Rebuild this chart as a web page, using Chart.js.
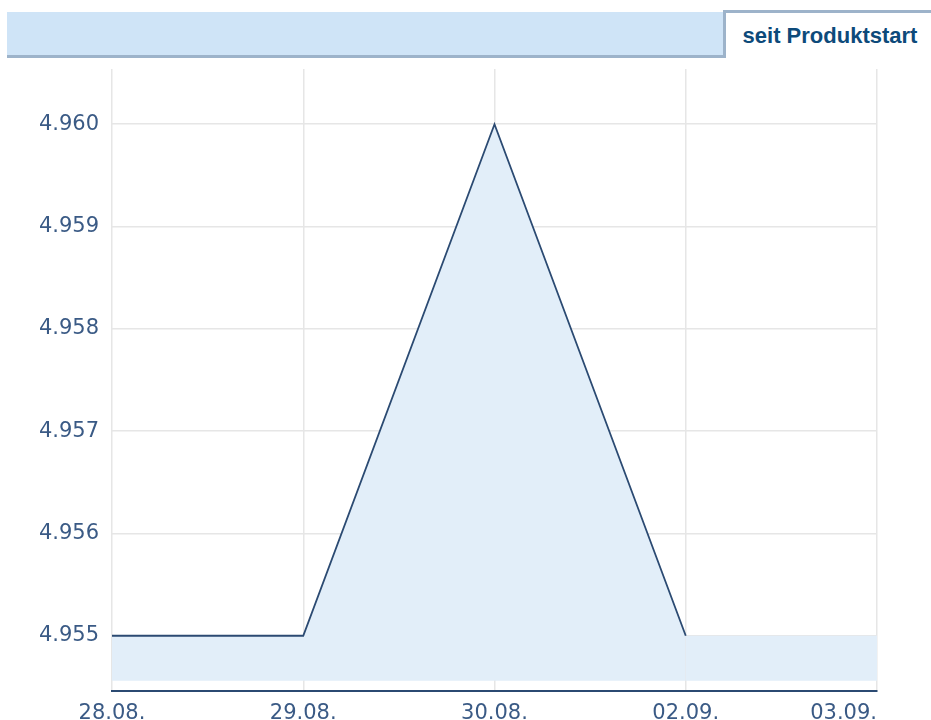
<!DOCTYPE html>
<html lang="de">
<head>
    <meta charset="UTF-8">
    <title>seit Produktstart</title>
    <script src="https://cdn.jsdelivr.net/npm/chart.js@4.4.1/dist/chart.umd.min.js"></script>
</head>
<style>
    body {
        margin: 0;
        background-color: #ffffff;
        width: 931px;
        height: 720px;
        overflow: hidden;
        position: relative;
    }

    .bar {
        position: absolute;
        left: 7px;
        top: 12px;
        width: 717px;
        height: 43px;
        background-color: #cfe4f7;
        border-bottom: 3px solid #9db3ca;
    }

    .tab {
        position: absolute;
        left: 723px;
        top: 10px;
        width: 208px;
        height: 45px;
        background-color: #ffffff;
        border-top: 3px solid #9db3ca;
        border-left: 3px solid #9db3ca;
        font-family: 'Liberation Sans', Arial, sans-serif;
        font-weight: bold;
        font-size: 22px;
        color: #0d4a7a;
        line-height: 45px;
        text-align: center;
    }

    .chart-box {
        position: absolute;
        left: 0;
        top: 0;
        width: 931px;
        height: 720px;
    }
</style>
<body>
    <div class="bar"></div>
    <div class="tab">seit Produktstart</div>
    <div class="chart-box">
        <canvas id="priceChart"></canvas>
    </div>

    <script>
        const dates = ['28.08.', '29.08.', '30.08.', '02.09.', '03.09.'];
        const prices = [4.955, 4.955, 4.960, 4.955, 4.955];
        const yTicks = [4.955, 4.956, 4.957, 4.958, 4.959, 4.960];
        const yMin = 4.95446;
        const yMax = 4.96054;
        const fillBase = 4.95456;

        const lineColor = '#2b4a72';
        const labelColor = '#3a5a85';
        const gridColor = '#e6e6e6';

        // last x label sits flush left of its tick, like the original
        const lastLabelRight = {
            id: 'lastLabelRight',
            beforeDraw(chart) {
                const items = chart.scales.x.getLabelItems();
                if (items.length) {
                    items[items.length - 1].options.textAlign = 'right';
                }
            }
        };

        new Chart(document.getElementById('priceChart'), {
            type: 'line',
            data: {
                labels: dates,
                datasets: [{
                    data: prices,
                    borderColor: lineColor,
                    borderWidth: 1.8,
                    backgroundColor: '#e2eef9',
                    fill: { value: fillBase },
                    tension: 0,
                    pointRadius: 0,
                    pointHoverRadius: 0,
                    segment: {
                        borderColor: ctx => ctx.p0DataIndex === 3 ? 'rgba(0,0,0,0)' : lineColor
                    }
                }]
            },
            options: {
                responsive: true,
                maintainAspectRatio: false,
                animation: false,
                layout: {
                    padding: { left: 0, top: 69, right: 54, bottom: 0 }
                },
                plugins: {
                    legend: { display: false },
                    tooltip: { enabled: false }
                },
                scales: {
                    x: {
                        offset: false,
                        grid: {
                            color: gridColor,
                            lineWidth: 1.5,
                            drawTicks: false
                        },
                        border: {
                            color: lineColor,
                            width: 2
                        },
                        ticks: {
                            color: labelColor,
                            padding: 10,
                            maxRotation: 0,
                            autoSkip: false,
                            font: { family: 'DejaVu Sans', size: 21 }
                        },
                        afterFit: axis => { axis.height = 29; }
                    },
                    y: {
                        min: yMin,
                        max: yMax,
                        afterBuildTicks: axis => {
                            axis.ticks = yTicks.map(v => ({ value: v }));
                        },
                        grid: {
                            color: gridColor,
                            lineWidth: 1.5,
                            drawTicks: false
                        },
                        border: { display: false },
                        ticks: {
                            color: labelColor,
                            padding: 13,
                            font: { family: 'DejaVu Sans', size: 21 },
                            callback: v => Number(v).toFixed(3)
                        },
                        afterFit: axis => { axis.width = 112; }
                    }
                }
            },
            plugins: [lastLabelRight]
        });
    </script>
</body>
</html>
